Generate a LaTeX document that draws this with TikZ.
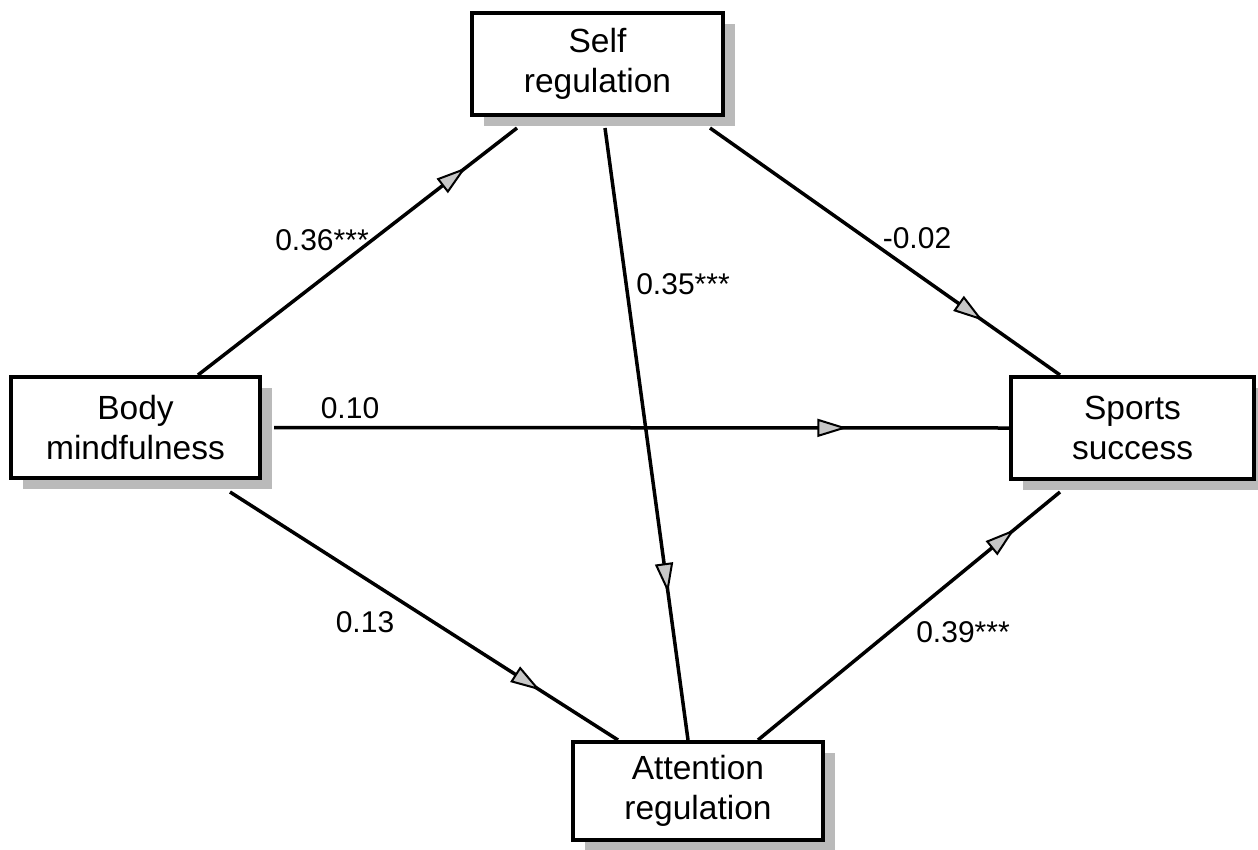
\documentclass[tikz,border=0pt]{standalone}
\usepackage{fontspec}
\setmainfont{Liberation Sans}
\usetikzlibrary{calc,shadows,arrows.meta,decorations.markings}
\tikzset{
  box/.style={draw=black, line width=4pt, fill=white, rectangle, align=center,
    font=\fontsize{33.5}{40}\selectfont, inner sep=0pt,
    drop shadow={shadow xshift=12pt, shadow yshift=-11pt, fill=black!27, opacity=1}},
  conn/.style={line width=3.5pt, draw=black},
  midarrow/.style={postaction={decorate}, decoration={markings,
    mark=at position #1 with {\arrow{Triangle[length=30pt,width=18pt,fill=black!22,line width=2pt]}}}},
  lbl/.style={font=\fontsize{30}{36}\selectfont, inner sep=0pt}
}
\begin{document}
\begin{tikzpicture}[x=1pt,y=-1pt]
\useasboundingbox (0,0) rectangle (1258,849);
\node[box, minimum width=251pt, minimum height=102pt] (self) at (597.5,64) {Self\\regulation};
\node[box, minimum width=249pt, minimum height=101pt] (body) at (135.5,427.5) {Body\\mindfulness};
\node[box, minimum width=243pt, minimum height=102pt] (sports) at (1132.5,428) {Sports\\success};
\node[box, minimum width=250pt, minimum height=98pt] (att) at (698,791) {Attention\\regulation};

\coordinate (b1) at ($(body.north west)+(189,0)$);
\coordinate (b2) at ($(body.east)+(12,0)$);
\coordinate (b3) at ($(body.south west)+(221,12)$);
\coordinate (s1) at ($(self.south west)+(47,11)$);
\coordinate (s2) at ($(self.south west)+(135,11)$);
\coordinate (s3) at ($(self.south west)+(240,11)$);
\coordinate (sp1) at ($(sports.north west)+(51,0)$);
\coordinate (sp2) at ($(sports.south west)+(51,11)$);
\coordinate (a1) at ($(att.north west)+(47,0)$);
\coordinate (a2) at ($(att.north west)+(117,0)$);
\coordinate (a3) at ($(att.north west)+(187,0)$);

\draw[conn, midarrow=0.84] (b1) -- (s1);
\draw[conn, midarrow=0.76] (s2) -- (a2);
\draw[conn, midarrow=0.78] (s3) -- (sp1);
\draw[conn, midarrow=0.78] (b2) -- (sports.west);
\draw[conn, midarrow=0.8] (b3) -- (a1);
\draw[conn, midarrow=0.85] (a3) -- (sp2);

\node[lbl] (l1) at (322,240) {0.36***};
\node[lbl] (l2) at (683,284) {0.35***};
\node[lbl] (l3) at (917,238) {-0.02};
\node[lbl] (l4) at (350,408) {0.10};
\node[lbl] (l5) at (365,622) {0.13};
\node[lbl] (l6) at (963,632) {0.39***};
\end{tikzpicture}
\end{document}
